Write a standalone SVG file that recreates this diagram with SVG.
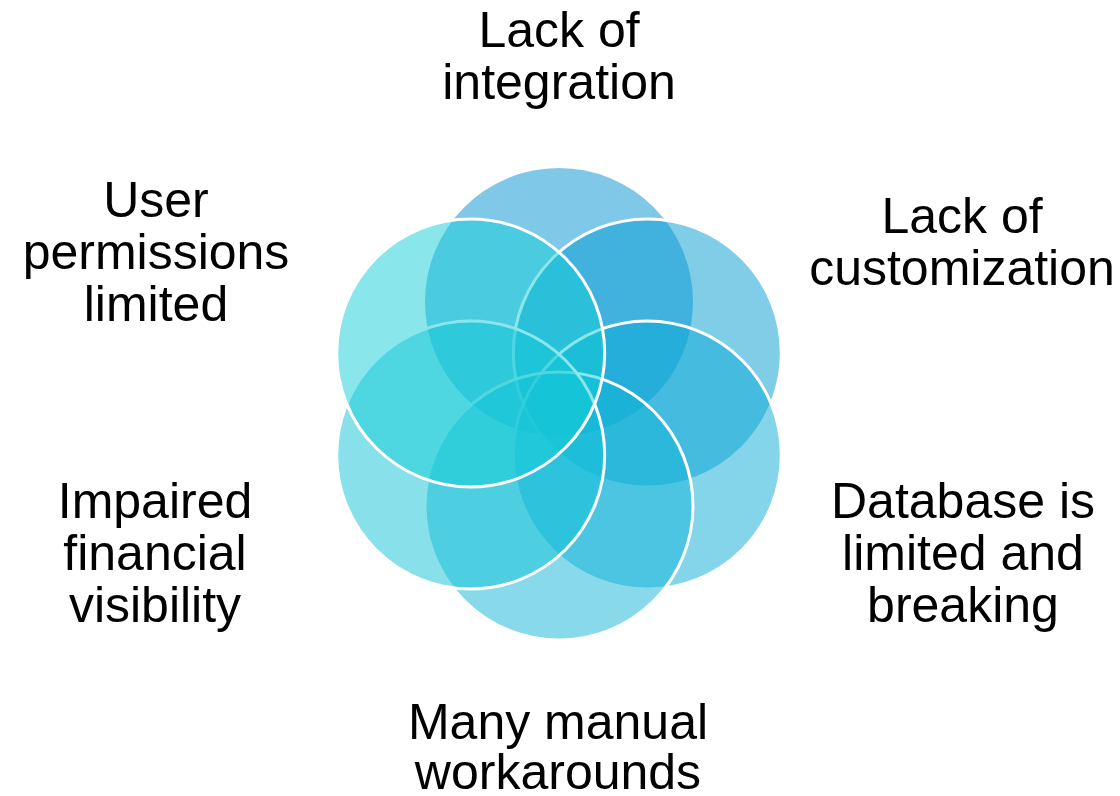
<svg xmlns="http://www.w3.org/2000/svg" width="1120" height="796" viewBox="0 0 1120 796">
  <style>
    .ring { fill-opacity: 0.5; stroke: #ffffff; stroke-width: 3; }
    .label { font-family: "Liberation Sans", Arial, sans-serif; font-size: 50px; fill: #000000; text-anchor: middle; }
  </style>
  <rect x="0" y="0" width="1120" height="796" fill="#ffffff"/>
  <g id="rings">
    <circle id="ring-top" cx="559" cy="302" r="134" fill="#0191D1" fill-opacity="0.5"/>
    <circle id="ring-top-right" class="ring" cx="647.3" cy="353" r="134" fill="#019BD1"/>
    <circle id="ring-bottom-right" class="ring" cx="647.3" cy="455" r="134" fill="#09A9D5"/>
    <circle id="ring-bottom" class="ring" cx="559" cy="506" r="134" fill="#11B5D7"/>
    <circle id="ring-bottom-left" class="ring" cx="470.7" cy="455" r="134" fill="#11C1D7"/>
    <circle id="ring-top-left" class="ring" cx="470.7" cy="353" r="134" fill="#13CDD5"/>
  </g>
  <g id="label-integration">
    <text class="label" x="559" y="47">Lack of</text>
    <text class="label" x="559" y="99">integration</text>
  </g>
  <g id="label-customization">
    <text class="label" x="962" y="233">Lack of</text>
    <text class="label" x="962" y="285">customization</text>
  </g>
  <g id="label-database">
    <text class="label" x="963" y="518">Database is</text>
    <text class="label" x="963" y="570">limited and</text>
    <text class="label" x="963" y="622">breaking</text>
  </g>
  <g id="label-workarounds">
    <text class="label" x="558" y="739">Many manual</text>
    <text class="label" x="558" y="789">workarounds</text>
  </g>
  <g id="label-financial">
    <text class="label" x="155" y="518">Impaired</text>
    <text class="label" x="155" y="570">financial</text>
    <text class="label" x="155" y="622">visibility</text>
  </g>
  <g id="label-permissions">
    <text class="label" x="156" y="217">User</text>
    <text class="label" x="156" y="269">permissions</text>
    <text class="label" x="156" y="321">limited</text>
  </g>
</svg>
